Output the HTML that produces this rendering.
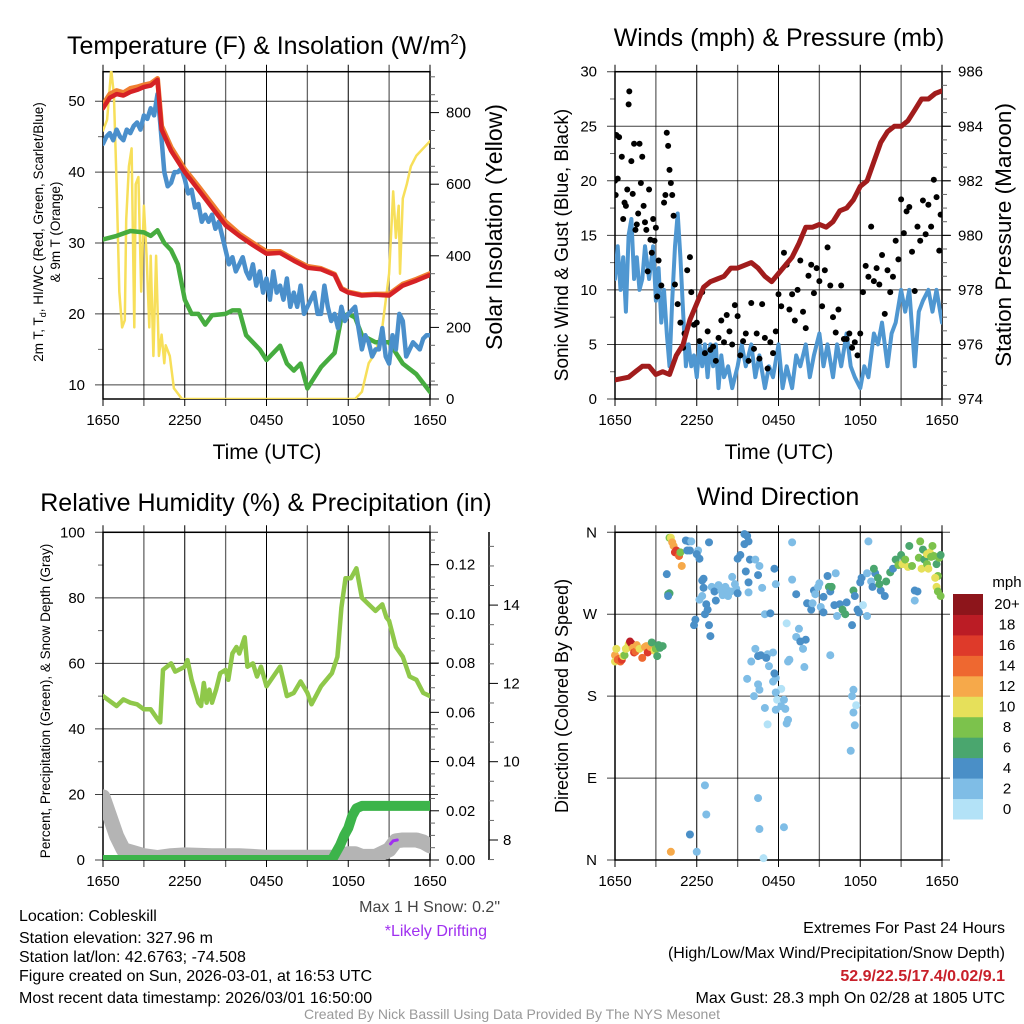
<!DOCTYPE html>
<html><head><meta charset="utf-8"><style>
html,body{margin:0;padding:0;background:#fff;}
svg{display:block;font-family:"Liberation Sans",sans-serif;}
</style></head><body>
<svg id="fig" width="1024" height="1024" viewBox="0 0 1024 1024" xmlns="http://www.w3.org/2000/svg">
<defs>
<clipPath id="c1"><rect x="103" y="71" width="327" height="328"/></clipPath>
<clipPath id="c2"><rect x="615" y="71" width="327" height="328"/></clipPath>
<clipPath id="c3"><rect x="103" y="532" width="327" height="328"/></clipPath>
<clipPath id="c4"><rect x="610" y="527" width="338" height="339"/></clipPath>
</defs>
<g id="g1"></g>
<g id="g2"></g>
<g id="g3"></g>
<g id="g4"></g>
<text x="267" y="54" font-size="25" text-anchor="middle">Temperature (F) &amp; Insolation (W/m<tspan dy="-10" font-size="15">2</tspan><tspan dy="10">)</tspan></text>
<text x="779" y="46" font-size="25" text-anchor="middle">Winds (mph) &amp; Pressure (mb)</text>
<text x="266" y="511" font-size="25" text-anchor="middle">Relative Humidity (%) &amp; Precipitation (in)</text>
<text x="778" y="505" font-size="25" text-anchor="middle">Wind Direction</text>
<text x="267" y="459" font-size="21" text-anchor="middle">Time (UTC)</text>
<text x="779" y="459" font-size="21" text-anchor="middle">Time (UTC)</text>
<text transform="translate(43,232) rotate(-90)" font-size="13.5" text-anchor="middle">2m T, T<tspan dy="3" font-size="9">d</tspan><tspan dy="-3">, HI/WC (Red, Green, Scarlet/Blue)</tspan></text>
<text transform="translate(60,232) rotate(-90)" font-size="13.5" text-anchor="middle">&amp; 9m T (Orange)</text>
<text transform="translate(502,227) rotate(-90)" font-size="23" text-anchor="middle">Solar Insolation (Yellow)</text>
<text transform="translate(568,245) rotate(-90)" font-size="19" text-anchor="middle">Sonic Wind &amp; Gust (Blue, Black)</text>
<text transform="translate(1011,235) rotate(-90)" font-size="22.5" text-anchor="middle">Station Pressure (Maroon)</text>
<text transform="translate(50,701) rotate(-90)" font-size="13.5" text-anchor="middle">Percent, Precipitation (Green), &amp; Snow Depth (Gray)</text>
<text transform="translate(568,696) rotate(-90)" font-size="18" text-anchor="middle">Direction (Colored By Speed)</text>
<text x="500" y="912" font-size="16" text-anchor="end" fill="#444">Max 1 H Snow: 0.2"</text>
<text x="487" y="936" font-size="16" text-anchor="end" fill="#a030f0">*Likely Drifting</text>
<g font-size="16">
<text x="19" y="921">Location: Cobleskill</text>
<text x="19" y="943">Station elevation: 327.96 m</text>
<text x="19" y="962">Station lat/lon: 42.6763; -74.508</text>
<text x="19" y="981">Figure created on Sun, 2026-03-01, at 16:53 UTC</text>
<text x="19" y="1003">Most recent data timestamp: 2026/03/01 16:50:00</text>
</g>
<g font-size="16" text-anchor="end">
<text x="1005" y="933">Extremes For Past 24 Hours</text>
<text x="1005" y="958">(High/Low/Max Wind/Precipitation/Snow Depth)</text>
<text x="1005" y="981" fill="#c8202a" font-weight="bold">52.9/22.5/17.4/0.02/9.1</text>
<text x="1005" y="1003">Max Gust: 28.3 mph On 02/28 at 1805 UTC</text>
</g>
<text x="512" y="1019" font-size="14" text-anchor="middle" fill="#999">Created By Nick Bassill Using Data Provided By The NYS Mesonet</text>
</svg>
<script>
// ---------- DATA ----------
const timeTickLabels = ["1650","2250","0450","1050","1650"];
// Panel 1 (hours since 1650 UTC)
const tempHours = [0,0.5,1,1.5,2,2.5,3,3.5,4,4.3,5,6,7,8,9,10,11,12,13,14,15,16,17,17.5,18,19,20,21,22,23,24];
const tempRed   = [49,50.5,51,50.8,51.3,51.6,52,52.2,53,46,43,40,37.5,35,32.5,31,29.7,28.5,28.6,27.5,26.5,26.3,25.5,23.5,23,22.6,22.7,22.6,24,24.7,25.5];
const tempOrange= [49.5,51,51.5,51.2,51.8,52,52.3,52.5,53.2,46.5,43.5,40.4,38,35.5,33,31.3,30,28.8,28.8,27.7,26.7,26.4,25.6,23.6,23.1,22.7,22.8,22.8,24.2,24.9,25.7];
const hiHours = [0,0.25,0.5,0.75,1,1.25,1.5,1.75,2,2.25,2.5,2.75,3,3.25,3.5,3.75,4,4.2,4.5,4.75,5,5.25,5.5,5.75,6,6.25,6.5,6.75,7,7.25,7.5,7.75,8,8.25,8.5,8.75,9,9.25,9.5,9.75,10,10.25,10.5,10.75,11,11.25,11.5,11.75,12,12.25,12.5,12.75,13,13.25,13.5,13.75,14,14.25,14.5,14.75,15,15.25,15.5,15.75,16,16.25,16.5,16.75,17,17.25,17.5,17.75,18,18.25,18.5,18.75,19,19.25,19.5,19.75,20,20.25,20.5,20.75,21,21.25,21.5,21.75,22,22.25,22.5,22.75,23,23.25,23.5,23.75,24];
const hiBlue = [44,45,45.5,44.5,46,45,44.5,46,45.5,46.5,47,46,48,47.5,49,48,51,47,40,38,38.5,40,40,40.5,39,37,37.5,35,35.5,33,34,33,34,32,33,31,29,27,28,26,27,28,26,25,27,24,26,23,25,22,26,23,24,22,25,21,23,21,24,20,21,22,23,20,20,24,21,19,20,18,21,19,20,20.5,21,18,15,17,16,14,15,15,18,14,13,17,15,20,19,14,15,16,15.5,15,16.5,17,17];
const tdHours = [0,1,2,3,3.5,4,4.5,5,5.5,6,6.5,7,7.5,8,9,9.5,10,10.5,11,11.5,12,12.5,13,13.5,14,14.5,15,15.5,16,17,17.5,18,18.5,19,20,21,22,23,24];
const tdGreen = [30.5,31,31.7,31.5,31,31.8,30,29,27,22,20,20,18.5,19.8,20,20.5,20.5,17,16,15,13.5,14.5,15.5,13,12,13,9.5,11,12.5,14.5,19.5,20,19.5,17,16,16,13,11.5,9];
const solHours = [0,0.3,0.6,0.8,1.0,1.2,1.4,1.6,1.7,1.9,2.1,2.3,2.4,2.6,2.8,3.0,3.2,3.4,3.5,3.7,3.9,4.1,4.3,4.5,4.6,4.9,5.2,5.8,18.5,19,19.5,20,20.5,21,21.3,21.5,21.7,21.8,22,22.3,22.6,23,24];
const solar = [750,780,920,850,600,300,200,220,500,650,700,200,600,620,300,540,400,200,400,120,400,120,180,100,150,120,30,0,0,20,100,130,200,350,580,450,540,350,560,600,650,680,720];
// Panel 2
const spdHours = [0,0.2,0.4,0.6,0.8,1,1.2,1.4,1.6,1.8,2,2.2,2.5,2.8,3,3.2,3.4,3.6,3.8,4,4.2,4.4,4.6,4.8,5,5.2,5.4,5.6,5.8,6,6.2,6.4,6.6,6.8,7,7.2,7.4,7.6,7.8,8,8.3,8.6,9,9.3,9.6,10,10.3,10.6,11,11.3,11.6,12,12.3,12.6,13,13.3,13.6,14,14.3,14.6,15,15.3,15.6,16,16.3,16.6,17,17.3,17.6,18,18.3,18.6,19,19.3,19.6,20,20.3,20.6,21,21.3,21.6,22,22.3,22.6,23,23.3,23.6,24];
const speed = [11,14,10,13,8,15,16.5,11,13,10,11,14,11,14,9,12,7,10,6,3,9,14,17,13,8,3,5,3,4,2,5,3,5,2,5,3,5,1,4,2,3,1,3,5,3,5,2,4,1,3,2,5,1,3,1,4,3,5,2,4,6,3,5,2,5,3,6,3,2,1,3,2,6,5,7,3,6,7,10,8,10,3,8,9,10,8,10,7];
const gustHours = [0,0.05,0.1,0.3,0.2,0.5,0.6,0.7,0.8,0.9,1.0,1.05,1.2,1.3,1.4,1.5,1.6,1.7,1.8,1.9,2.0,2.1,2.2,2.3,2.4,2.5,2.6,2.8,2.9,2.7,3.0,3.1,3.2,3.4,3.6,3.7,3.8,3.9,4.0,4.1,4.2,4.3,4.4,4.6,4.8,5.0,5.1,5.3,5.5,5.6,5.8,6.0,6.2,6.4,6.6,6.8,7.0,7.2,7.4,7.6,7.8,8.0,8.2,8.4,8.6,8.8,9.0,9.2,9.4,9.6,9.8,10.0,10.2,10.4,10.6,10.8,11.0,11.2,11.4,11.6,11.8,12.0,12.2,12.4,12.6,12.8,13.0,13.2,13.4,13.6,13.8,14.0,14.2,14.4,14.6,14.8,15.0,15.2,15.4,15.6,15.8,16.0,16.2,16.4,16.6,16.8,17.0,17.2,17.4,17.6,17.8,18.0,18.2,18.4,18.6,18.8,19.0,19.2,19.4,19.6,19.8,20.0,20.2,20.4,20.6,20.8,21.0,21.2,21.4,21.6,21.8,22.0,22.2,22.4,22.6,22.8,23.0,23.2,23.4,23.6,23.8,23.9];
const gust = [20,18.7,24.2,24,20.2,22.2,16.5,18,17.7,19.2,27,28.2,21.8,18.8,23.4,15.5,16,17,23.4,19.8,22.2,17.7,16.2,15.5,11.7,19.2,14.6,16.5,14.5,13.4,15.7,9.4,12.7,10.4,18,18.7,24.4,23.2,21,19.8,18.7,16.8,10.5,8.7,7,4.7,6,11.8,13,9.8,6.8,7,5.3,9.8,4.2,6.2,4.5,4.8,3.5,5.6,7.2,5.2,7.7,6.2,5,8.6,7.6,4,5.3,6,3.5,8.8,4.6,6,3.7,8.7,5.6,2.8,5.2,4.2,6.2,9.6,8.5,13.4,12.3,8.2,9.6,7.2,10,12.7,8,6.5,11.3,12.3,9.7,12,10.8,8.5,11.8,13.9,10.4,7.5,6.1,8.2,10.4,5.5,5.5,6,4.7,5.2,4,6,9.8,12.2,11.2,15.8,10.8,12,10.5,13.2,7.8,11.8,9.8,11.2,14.5,12.8,18.3,15.2,17.2,17.6,13.5,9.9,15.8,14.5,18.2,15.1,17.8,15.8,20.1,18.5,13.6,16.9];
const presHours = [0,1,1.5,2,2.5,3,3.5,4,4.5,5,5.5,6,6.5,7,7.5,8,8.5,9,10,10.5,11,11.5,12,12.5,13,13.5,14,14.5,15,15.5,16,16.5,17,17.5,18,18.5,19,19.5,20,20.5,21,21.5,22,22.5,23,23.5,24];
const pressure = [974.7,974.8,975.0,975.2,975.2,974.9,975.0,974.9,975.6,976.0,976.9,977.5,978.1,978.3,978.4,978.5,978.8,978.8,979.0,978.8,978.5,978.3,978.6,978.9,979.2,979.7,980.3,980.3,980.4,980.3,980.5,980.9,981.0,981.3,981.8,982.0,982.7,983.4,983.8,984.0,984.0,984.2,984.6,985.0,985.0,985.2,985.3];
// Panel 3
const rhHours = [0,0.5,1,1.5,2,2.5,3,3.5,4,4.2,4.4,5,5.3,6,6.2,6.5,7,7.2,7.4,7.6,7.8,8,8.3,8.6,9,9.2,9.5,9.8,10,10.4,10.6,11,11.3,11.6,12,12.5,13,13.5,14,14.5,15,15.3,16,16.8,17.2,17.5,17.8,18.2,18.6,19,19.5,20,20.5,20.8,21,21.5,22,22.5,23,23.5,24];
const rh = [50,48.5,47,49,48,47.5,46,46,43,42,58,60,57.5,59,61,55,48,47,54,48,52,48,52,57,58,55,63,65,63,68,59,60,56,59,53,56,59,50,51,54.5,51,47.5,53,57,62,77,86,86,89,80,78,76,78,74,73,65,62,56,55,51,50];
const precipHours = [0,16.8,17.1,17.4,17.7,18.0,18.3,18.6,19,24];
const precip = [0,0,0.003,0.006,0.01,0.013,0.018,0.021,0.022,0.022];
const snowHours = [0,0.5,1,1.5,2,3,4,5,6,8,10,12,14,16,17,18,18.5,19,20,21,21.5,22,23,23.5,24];
const snowDepth = [9.1,8.6,8.1,7.75,7.7,7.6,7.55,7.6,7.62,7.6,7.6,7.56,7.56,7.56,7.56,7.65,7.65,7.58,7.58,7.75,7.98,8.0,8.0,7.95,7.85];
const driftHours = [21.1,21.3,21.6];
const driftDepth = [7.9,7.98,8.0];
// Panel 4 (hours, direction in degrees, speed in mph)
const dirHours = [
 0,0,0.1,0.2,0.3,0.4,0.5,0.6,0.7,0.8,0.9,1.0,1.1,1.2,1.3,1.4,1.5,1.6,1.8,2.0,2.2,2.3,2.4,2.6,2.7,2.9,3.0,3.1,3.2,3.3,3.5,
 4.0,4.1,4.2,4.3,4.4,4.5,4.6,4.7,4.8,4.9,3.8,3.9,4.0,3.9,
 5.2,5.4,5.6,5.3,5.5,6.1,6.0,6.9,6.2,6.4,6.5,6.5,6.4,6.7,5.9,5.8,6.2,6.6,6.8,6.9,7.0,7.1,7.3,7.4,7.6,7.8,7.9,8.1,8.2,8.3,8.5,8.6,8.8,8.9,9.0,9.0,9.2,9.5,9.7,9.5,9.8,9.9,9.6,9.8,9.8,
 10.3,10.6,10.8,10.5,11.0,11.4,11.8,11.7,11.2,10.3,10.5,10.7,10.0,11.1,11.3,11.6,11.6,11.8,10.6,11.0,11.2,11.9,12.2,12.2,12.4,12.5,12.6,12.7,11.7,11.8,12.8,12.7,12.6,
 13.0,13.0,13.3,13.5,13.3,13.6,13.8,13.9,14.0,14.1,14.4,14.5,14.6,14.7,14.9,15.0,15.1,15.3,15.6,15.7,15.8,15.9,15.8,15.3,16.2,16.1,16.3,16.5,16.7,16.9,17.0,17.4,17.5,17.6,17.8,17.9,
 18.0,18.1,18.2,18.5,18.5,18.8,18.6,18.9,19.1,19.0,19.3,19.5,19.4,19.8,19.9,20.2,20.4,20.6,20.8,21.0,21.1,21.3,21.5,21.8,22.0,22.2,22.0,22.3,22.5,22.7,22.9,23.1,23.3,23.4,23.6,23.8,23.9,23.7,23.5,23.6,23.7,23.9,22.6,22.4,21.6,22.9,23.2,23.0,
 6.6,6.7,5.5,6.0,4.1,10.5,10.6,10.9,12.4,17.3,17.6,17.5,17.4,17.5,17.7,9.7,10.5,10.2,11.8];
const dirDeg = [
 225,218,232,220,221,218,220,224,225,232,233,237,240,238,233,228,229,236,232,222,234,235,228,234,239,230,232,224,236,233,235,
 354,354,349,345,338,340,337,334,338,323,314,292,293,290,
 351,350,350,340,340,340,336,349,331,307,309,299,290,281,264,258,286,270,275,258,246,300,295,285,302,296,291,300,297,290,295,311,303,298,293,331,335,358,356,347,350,330,317,305,294,
 330,323,299,313,270,271,303,320,226,232,224,225,218,222,213,228,196,200,187,167,149,176,188,169,176,166,150,154,205,184,220,218,260,
 349,308,292,254,245,240,232,212,242,282,275,282,296,292,300,304,278,289,312,300,295,300,225,272,315,280,268,281,275,270,283,258,296,290,275,272,
 305,310,280,315,268,306,350,300,315,320,310,296,303,290,306,316,320,330,324,335,325,330,322,323,296,295,285,332,320,330,325,338,345,334,325,332,335,312,310,300,295,290,341,350,345,336,333,320,
 82,50,28,9,9,68,34,2,36,120,148,162,180,187,170,199,193,180,165];
const dirSpeed = [
 12,10,10,14,15,14,16,10,9,10,10,11,18,18,12,16,14,12,11,14,12,12,16,12,7,10,8,7,6,6,6,
 8,10,12,12,16,17,16,15,9,12,4,6,6,4,
 4,4,2,4,4,2,4,4,4,4,4,4,2,4,4,4,2,4,4,4,4,2,4,4,2,2,2,2,2,2,2,2,2,2,4,4,4,4,4,4,4,4,4,4,2,
 2,2,2,4,2,4,2,4,2,2,4,4,2,4,2,2,2,2,2,2,0,0,0,2,2,2,2,2,4,2,2,2,0,
 2,2,4,2,2,4,2,2,4,4,4,2,4,2,2,2,2,4,4,6,4,6,2,4,2,4,2,4,6,6,4,4,6,4,4,4,
 4,4,0,2,2,2,2,4,4,6,6,4,6,4,6,6,4,6,8,6,10,8,10,8,4,4,2,8,10,6,8,10,8,8,6,8,6,8,10,10,8,8,6,8,6,10,8,10,
 2,2,4,2,12,2,2,0,2,2,2,2,2,2,0,2,2,2,2];
const colorbarLabels = ["0","2","4","6","8","10","12","14","16","18","20+"];
const speedColors = ["#b3e2f7","#7fbde6","#4a8fc7","#4aa66e","#7cc24c","#e6e05a","#f6a94a","#ee6830","#de3a2a","#bb1c25","#8d151b"];

// ---------- HELPERS ----------
const NS = "http://www.w3.org/2000/svg";
function mk(parent, tag, attrs){ const e=document.createElementNS(NS,tag); for(const k in attrs) e.setAttribute(k,attrs[k]); parent.appendChild(e); return e; }
function pathD(xs, ys, fx, fy){ let d=""; const n=Math.min(xs.length,ys.length); for(let i=0;i<n;i++){ d+=(i?"L":"M")+fx(xs[i]).toFixed(1)+","+fy(ys[i]).toFixed(1);} return d; }

function frame(g, L, T, R, B, leftTicks, fyL, leftLabels, minorL){
  for(let h=0;h<=24;h+=3){
    const x=L+h*(R-L)/24;
    const ln=mk(g,"line",{x1:x,y1:T-7,x2:x,y2:B+7,stroke:"#000","stroke-width":(h%6===0?1:1.3),"stroke-opacity":(h%6===0?1:0.6)});
    
    
  }
  timeTickLabels.forEach((s,i)=>{
    const t=mk(g,"text",{x:L+i*(R-L)/4,y:B+26,"font-size":15,"text-anchor":"middle"}); t.textContent=s;
    
    
  });
  leftTicks.forEach((v,i)=>{
    const y=fyL(v);
    const ln=mk(g,"line",{x1:L-8,y1:y,x2:R+8,y2:y,stroke:"#000","stroke-width":1,"stroke-opacity":0.75});
    
    
    const t=mk(g,"text",{x:L-18,y:y+5,"font-size":15,"text-anchor":"end"}); t.textContent=leftLabels[i];
    
    
  });
  (minorL||[]).forEach(v=>{ const y=fyL(v); const ln=mk(g,"line",{x1:L-5,y1:y,x2:L,y2:y,stroke:"#666"});
    
     });
  const b=mk(g,"rect",{x:L,y:T,width:R-L,height:B-T,fill:"none",stroke:"#000","stroke-width":1.5});
  
  
}
function rightAxis(g, X, ticks, fy, labels, minor, offset){
  ticks.forEach((v,i)=>{ const y=fy(v);
    const ln=mk(g,"line",{x1:X,y1:y,x2:X+9,y2:y,stroke:"#000"});
    
    
    const t=mk(g,"text",{x:X+(offset||16),y:y+5,"font-size":15}); t.textContent=labels[i];
    
    
  });
  (minor||[]).forEach(v=>{ const y=fy(v); const ln=mk(g,"line",{x1:X,y1:y,x2:X+5,y2:y,stroke:"#666"});
    
     });
}
function series(g, xs, ys, fx, fy, color, w, clip, name){
  const p=mk(g,"path",{d:pathD(xs,ys,fx,fy),fill:"none",stroke:color,"stroke-width":w,"stroke-linejoin":"round","stroke-linecap":"round","clip-path":"url(#"+clip+")"});
  
  
  return p;
}

// ---------- PANEL 1 ----------
(function(){
  const g=document.getElementById("g1");
  const L=103,R=430,T=71.7,B=399;
  const fx=h=>L+h*(R-L)/24, fyT=v=>B-(v-8)*7.09, fyW=v=>B-v*0.358;
  frame(g,L,T,R,B,[10,20,30,40,50],fyT,["10","20","30","40","50"],[15,25,35,45]);
  rightAxis(g,R,[0,200,400,600,800],fyW,["0","200","400","600","800"],[50,100,150,250,300,350,450,500,550,650,700,750,850,900]);
  series(g,solHours,solar,fx,fyW,"#f7df5a",2.5,"c1","solar-insolation-line");
  series(g,tdHours,tdGreen,fx,fyT,"#46ac3f",4.5,"c1","dewpoint-line");
  series(g,tempHours,tempOrange,fx,fyT,"#f07f31",5,"c1","temp-9m-line");
  series(g,hiHours,hiBlue,fx,fyT,"#4a8fcb",4.5,"c1","wind-chill-line");
  series(g,tempHours,tempRed,fx,fyT,"#d62226",4.5,"c1","temp-2m-line");
})();

// ---------- PANEL 2 ----------
(function(){
  const g=document.getElementById("g2");
  const L=615,R=942,T=71.7,B=399;
  const fx=h=>L+h*(R-L)/24, fyS=v=>B-v*(B-T)/30, fyP=v=>B-(v-974)*(B-T)/12;
  frame(g,L,T,R,B,[0,5,10,15,20,25,30],fyS,["0","5","10","15","20","25","30"],[2.5,7.5,12.5,17.5,22.5,27.5]);
  rightAxis(g,R,[974,976,978,980,982,984,986],fyP,["974","976","978","980","982","984","986"],[974.5,975,975.5,976.5,977,977.5,978.5,979,979.5,980.5,981,981.5,982.5,983,983.5,984.5,985,985.5]);
  series(g,spdHours,speed,fx,fyS,"#4f97d1",4,"c2","sonic-wind-line");
  gustHours.forEach((h,i)=>{
    const c=mk(g,"circle",{cx:fx(h),cy:fyS(gust[i]),r:3,fill:"#000","clip-path":"url(#c2)"});
    
    
  });
  series(g,presHours,pressure,fx,fyP,"#a11c1c",5,"c2","pressure-line");
})();

// ---------- PANEL 3 ----------
(function(){
  const g=document.getElementById("g3");
  const L=103,R=430,T=532.3,B=860;
  const fx=h=>L+h*(R-L)/24, fyR=v=>B-v*(B-T)/100, fyPr=v=>B-v*2461, fyS=v=>840-(v-8)*39.15;
  frame(g,L,T,R,B,[0,20,40,60,80,100],fyR,["0","20","40","60","80","100"],[10,30,50,70,90]);
  rightAxis(g,R,[0,0.02,0.04,0.06,0.08,0.10,0.12],fyPr,["0.00","0.02","0.04","0.06","0.08","0.10","0.12"],[0.005,0.01,0.015,0.025,0.03,0.035,0.045,0.05,0.055,0.065,0.07,0.075,0.085,0.09,0.095,0.105,0.11,0.115,0.125,0.13]);
  const ax=mk(g,"line",{x1:489,y1:532,x2:489,y2:860,stroke:"#000","stroke-width":1.5});
  
  
  rightAxis(g,489,[8,10,12,14],fyS,["8","10","12","14"],[7.5,8.5,9,9.5,10.5,11,11.5,12.5,13,13.5,14.5,15,15.5],14);
  series(g,snowHours,snowDepth,fx,fyS,"#b4b4b4",15,"c3","snow-depth-line");
  series(g,driftHours,driftDepth,fx,fyS,"#a030f0",3,"c3","drifting-marker");
  series(g,precipHours,precip,fx,fyPr,"#3cb44a",10,"c3","precipitation-line");
  series(g,rhHours,rh,fx,fyR,"#8fc84a",4.5,"c3","relative-humidity-line");
})();

// ---------- PANEL 4 ----------
(function(){
  const g=document.getElementById("g4");
  const L=615,R=942,T=532.3,B=860;
  const fx=h=>L+h*(R-L)/24, fyD=v=>B-v*(B-T)/360;
  frame(g,L,T,R,B,[0,90,180,270,360],fyD,["N","E","S","W","N"],[]);
  const n=Math.min(dirHours.length,dirDeg.length,dirSpeed.length);
  for(let i=0;i<n;i++){
    const ci=Math.min(10,Math.max(0,Math.floor(dirSpeed[i]/2)));
    const c=mk(g,"circle",{cx:fx(dirHours[i]),cy:fyD(dirDeg[i]),r:4,fill:speedColors[ci],"clip-path":"url(#c4)"});
    
    
  }
  const top=594,bot=819,bh=(bot-top)/colorbarLabels.length;
  colorbarLabels.forEach((s,i)=>{
    const y=bot-(i+1)*bh;
    const r=mk(g,"rect",{x:953,y:y,width:30,height:bh+0.5,fill:speedColors[i]});
    
    
    const t=mk(g,"text",{x:1007,y:y+bh/2+5,"font-size":15,"text-anchor":"middle"}); t.textContent=s;
    
    
  });
  const u=mk(g,"text",{x:1007,y:587,"font-size":15,"text-anchor":"middle"}); u.textContent="mph";
  
  
})();
</script>
</body></html>
